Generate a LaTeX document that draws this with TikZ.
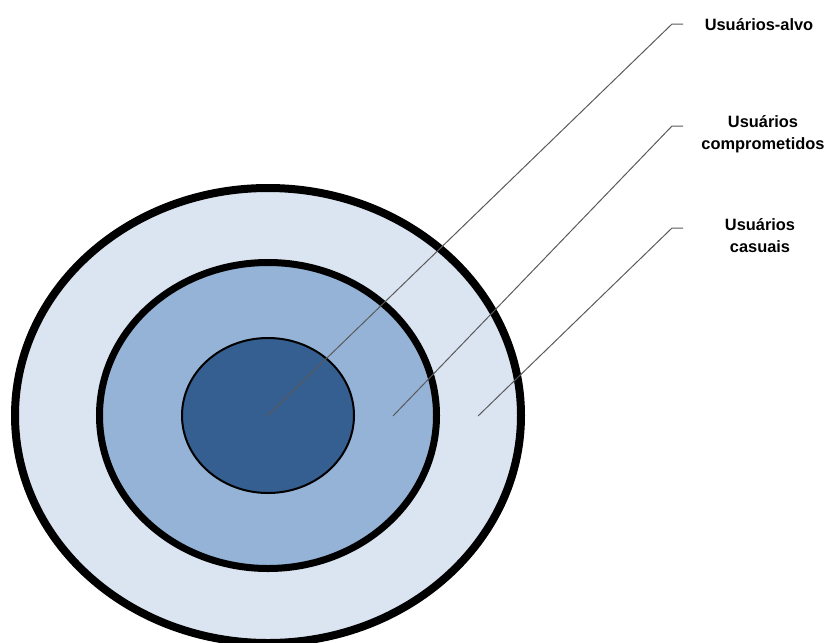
\documentclass[tikz,border=0pt]{standalone}
\usepackage{fontspec}
\setmainfont{Liberation Sans}
\usepackage{xcolor}
\usetikzlibrary{shapes.geometric}

\definecolor{casualfill}{HTML}{DBE5F1}
\definecolor{engagedfill}{HTML}{95B3D7}
\definecolor{targetfill}{HTML}{365F91}
\definecolor{leadergray}{HTML}{5A5A5A}

\begin{document}
\begin{tikzpicture}
  [
    x=0.3mm, y=-0.3mm,
    ring/.style={ellipse,draw=black,inner sep=0pt,outer sep=0pt},
    group/.style={font=\bfseries\fontsize{14}{18.5}\selectfont,align=center,inner sep=0pt},
    leader/.style={draw=leadergray,line width=0.3mm}
  ]
  \useasboundingbox (0,0) rectangle (827,642);
  % rings, outermost first
  \node[ring,fill=casualfill,line width=2.4mm,minimum width=151.8mm,minimum height=136.5mm] (casual ring) at (268,415.5) {};
  \node[ring,fill=engagedfill,line width=2.1mm,minimum width=101.1mm,minimum height=91.8mm] (engaged ring) at (268,415.5) {};
  \node[ring,fill=targetfill,line width=0.6mm,minimum width=51.6mm,minimum height=46.5mm] (target ring) at (268,415.5) {};
  % labels
  \node[group,anchor=base] (alvo) at (759,30) {Usuários-alvo};
  \node[group] (comprometidos) at (763,134) {Usuários\\comprometidos};
  \node[group] (casuais) at (760,235.5) {Usuários\\casuais};
  % leader ends
  \coordinate (alvo tick) at (683,24);
  \coordinate (comprometidos tick) at (683,126);
  \coordinate (casuais tick) at (683,228);
  \coordinate (alvo end) at (267,416);
  \coordinate (comprometidos end) at (393,416);
  \coordinate (casuais end) at (478,416);
  \draw[leader] (alvo tick) -- ++(-11,0) -- (alvo end);
  \draw[leader] (comprometidos tick) -- ++(-11,0) -- (comprometidos end);
  \draw[leader] (casuais tick) -- ++(-11,0) -- (casuais end);
\end{tikzpicture}
\end{document}
